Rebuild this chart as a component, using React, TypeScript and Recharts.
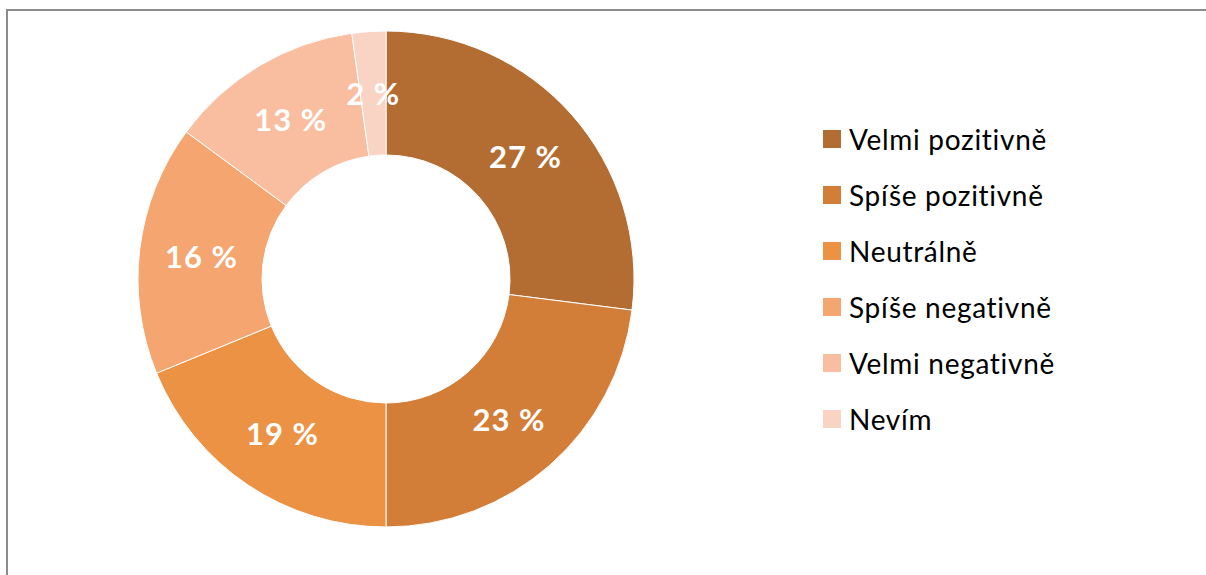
import { PieChart, Pie, Cell } from 'recharts';

const categories = ['Velmi pozitivně', 'Spíše pozitivně', 'Neutrálně', 'Spíše negativně', 'Velmi negativně', 'Nevím'];
const shares = [27, 23, 18.8, 16.3, 12.7, 2.2];
const colors = ['#B36D33', '#D27E39', '#EB9245', '#F5A56F', '#F8BE9F', '#F9D4C4'];

const data = categories.map((name, i) => ({ name, value: shares[i] }));

const RADIAN = Math.PI / 180;

const renderLabel = (props: any) => {
  const { cx, cy, midAngle, innerRadius, outerRadius, value } = props;
  const r = (innerRadius + outerRadius) / 2;
  const x = cx + r * Math.cos(-midAngle * RADIAN);
  const y = cy + r * Math.sin(-midAngle * RADIAN);
  return (
    <text x={x} y={y} fill="#FFFFFF" textAnchor="middle" dominantBaseline="central"
      style={{ fontFamily: 'Lato', fontWeight: 700, fontSize: 31, letterSpacing: 1 }}>
      {`${Math.round(value)} %`}
    </text>
  );
};

const ChartLegend = () => (
  <div style={{ position: 'absolute', left: 823, top: 111, fontFamily: 'Lato', fontSize: 28, letterSpacing: 0.7, color: '#000' }}>
    {categories.map((c, i) => (
      <div key={c} style={{ display: 'flex', alignItems: 'center', height: 56 }}>
        <span style={{ width: 18, height: 18, background: colors[i], marginRight: 8, flex: 'none' }} />
        <span style={{ whiteSpace: 'nowrap' }}>{c}</span>
      </div>
    ))}
  </div>
);

export default function App() {
  return (
    <div style={{ position: 'absolute', left: 0, top: 0, width: 1206, height: 575, background: '#fff', overflow: 'hidden' }}>
      <div style={{ position: 'absolute', left: 6, top: 9, width: 1300, height: 700, borderTop: '2px solid #8C8C8C', borderLeft: '2px solid #8C8C8C' }} />
      <div style={{ position: 'absolute', left: 0, top: 0 }}>
        <PieChart width={1206} height={575} margin={{ top: 0, right: 0, bottom: 0, left: 0 }}>
          <Pie
            data={data}
            dataKey="value"
            cx={386}
            cy={279}
            innerRadius={124}
            outerRadius={248}
            startAngle={90}
            endAngle={-270}
            stroke="#FFFFFF"
            strokeWidth={1}
            label={renderLabel}
            labelLine={false}
            isAnimationActive={false}
          >
            {data.map((d, i) => (
              <Cell key={d.name} fill={colors[i]} />
            ))}
          </Pie>
        </PieChart>
      </div>
      <ChartLegend />
    </div>
  );
}
